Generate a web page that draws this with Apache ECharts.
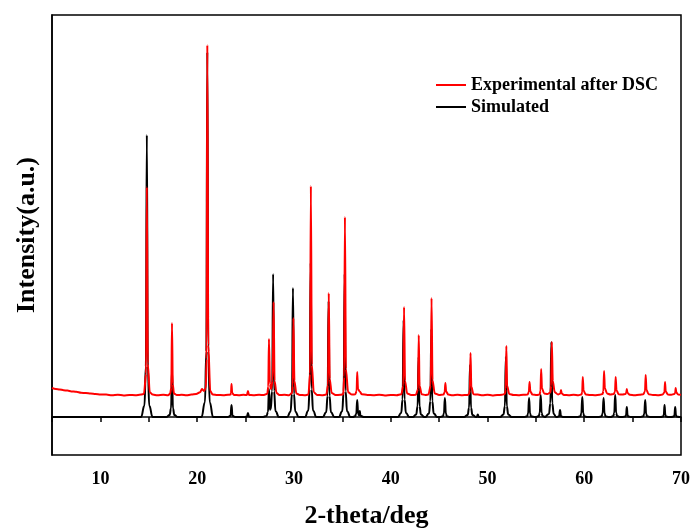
<!DOCTYPE html>
<html>
<head>
<meta charset="utf-8">
<script src="https://cdn.jsdelivr.net/npm/echarts@6/dist/echarts.min.js"></script>
<style>html,body{margin:0;padding:0;background:#fff;}#c{width:692px;height:530px;}</style>
</head>
<body>
<div id="c"></div>
<script>
// x tick labels shown on the 2-theta axis
var tickLabels = [10, 20, 30, 40, 50, 60, 70];
var seriesNames = ['Experimental after DSC', 'Simulated'];

// Experimental pattern after DSC: [2-theta, intensity]
var experimental = [
[5.0,725],[5.4,700],[5.8,690],[6.2,670],[6.6,660],[7.0,640],[7.5,630],[8.0,605],[8.5,600],[9.0,585],[9.5,575],[10.0,565],[10.6,560],[11.2,545],[11.8,555],[12.4,540],[13.0,550],[13.6,545],[14.2,560],[14.5,575],
[14.72,1080],[14.8,5750],[14.9,1340],[15.1,620],[15.4,560],
[15.9,545],[16.5,555],[17.0,545],[17.2,580],
[17.33,730],[17.4,2350],[17.48,820],[17.6,590],[17.9,550],
[18.4,555],[18.9,545],[19.4,560],[19.9,575],[20.3,620],[20.5,700],[20.7,650],[20.9,720],
[20.97,1450],[21.05,9300],[21.15,1800],[21.35,650],[21.6,565],
[22.1,550],[22.7,545],[23.2,555],[23.45,560],
[23.5,600],[23.55,825],[23.62,600],[23.8,550],
[24.3,545],[24.8,555],[25.15,550],[25.25,650],[25.35,550],[25.8,545],[26.4,555],[26.9,550],[27.25,580],
[27.35,760],[27.42,1950],[27.52,820],[27.62,700],[27.8,900],[27.9,2875],[28.0,900],[28.2,600],[28.5,550],
[29.0,555],[29.5,545],[29.8,600],
[29.88,780],[29.95,2475],[30.05,900],[30.25,590],[30.6,550],
[31.1,545],[31.5,560],
[31.67,1080],[31.75,5775],[31.85,1300],[32.05,620],[32.4,550],
[32.9,545],[33.35,560],
[33.52,800],[33.6,3100],[33.7,950],[33.9,600],[34.3,550],
[34.8,555],[35.1,570],
[35.19,1000],[35.27,5000],[35.37,1200],[35.6,620],[36.0,560],[36.35,570],
[36.48,650],[36.54,1125],[36.62,700],[36.8,640],[37.0,570],
[37.6,550],[38.2,545],[38.8,555],[39.4,540],[40.0,550],[40.6,545],[41.1,570],
[41.3,780],[41.38,2750],[41.48,900],[41.7,590],[42.1,550],[42.6,555],
[42.83,700],[42.9,2050],[42.98,780],[43.2,570],[43.6,550],[43.9,565],
[44.14,790],[44.22,2975],[44.32,920],[44.55,590],[45.0,550],[45.45,560],
[45.58,620],[45.65,850],[45.73,640],[45.95,560],
[46.4,545],[46.9,555],[47.4,545],[47.9,550],[48.1,570],
[48.18,680],[48.25,1600],[48.33,760],[48.55,570],[49.0,560],[49.5,545],[50.0,555],[50.5,540],[51.0,550],[51.5,555],[51.8,575],
[51.88,690],[51.95,1775],[52.03,780],[52.25,575],[52.7,550],[53.2,545],[53.7,555],[54.15,560],
[54.28,630],[54.35,875],[54.43,640],[54.65,560],[55.1,550],[55.4,565],
[55.48,660],[55.55,1200],[55.63,720],[55.85,590],[56.2,575],[56.5,610],
[56.58,780],[56.65,1875],[56.75,900],[56.95,620],[57.3,560],
[57.54,590],[57.6,675],[57.67,590],[57.9,550],[58.4,545],[58.9,555],[59.4,545],[59.7,560],
[59.79,620],[59.85,1000],[59.93,660],[60.15,565],[60.6,550],[61.1,545],[61.6,555],[61.9,575],
[61.98,650],[62.05,1150],[62.13,720],[62.35,590],[62.7,560],[63.05,575],
[63.18,630],[63.25,1000],[63.33,670],[63.55,570],[63.95,560],[64.25,575],
[64.34,600],[64.4,700],[64.47,600],[64.7,555],[65.2,545],[65.7,555],[66.1,570],
[66.28,640],[66.35,1050],[66.43,680],[66.65,570],[67.1,550],[67.6,545],[68.1,560],
[68.29,620],[68.35,875],[68.42,640],[68.65,560],[69.0,555],[69.3,575],
[69.4,600],[69.45,725],[69.52,610],[69.7,560],[70.0,555]
];

// Simulated pattern: [2-theta, intensity]
var simulated = [
[5.0,0],
[14.2,0],[14.55,280],[14.7,1270],[14.8,7050],[14.9,1270],[15.05,280],[15.4,0],
[16.8,0],[17.15,47],[17.3,210],[17.4,1175],[17.5,210],[17.65,47],[18.0,0],
[20.45,0],[20.8,365],[20.95,1640],[21.05,9125],[21.15,1640],[21.3,365],[21.65,0],
[23.15,0],[23.45,30],[23.55,300],[23.65,30],[23.95,0],
[24.95,0],[25.15,12],[25.25,100],[25.35,12],[25.55,0],
[26.82,0],[27.17,28],[27.32,126],[27.42,700],[27.52,180],[27.6,200],[27.75,645],[27.85,3575],[27.95,645],[28.1,143],[28.45,0],
[29.3,0],[29.65,129],[29.8,580],[29.9,3225],[30.0,580],[30.15,129],[30.5,0],
[31.13,0],[31.48,154],[31.63,693],[31.73,3850],[31.83,693],[31.98,154],[32.33,0],
[32.98,0],[33.33,116],[33.48,522],[33.58,2900],[33.68,522],[33.83,116],[34.18,0],
[34.64,0],[34.99,143],[35.14,645],[35.24,3575],[35.34,645],[35.49,143],[35.84,0],
[36.1,0],[36.3,17],[36.44,77],[36.54,425],[36.64,77],[36.72,45],[36.8,150],[36.88,30],[37.2,0],
[40.73,0],[41.08,97],[41.23,437],[41.33,2425],[41.43,437],[41.58,97],[41.93,0],
[42.28,0],[42.63,60],[42.78,270],[42.88,1500],[42.98,270],[43.13,60],[43.48,0],
[43.6,0],[43.95,88],[44.1,396],[44.2,2200],[44.3,396],[44.45,88],[44.8,0],
[45.1,0],[45.4,19],[45.5,86],[45.6,475],[45.7,86],[45.8,19],[46.1,0],
[47.6,0],[47.95,52],[48.1,234],[48.2,1300],[48.3,234],[48.45,52],[48.8,0],
[48.9,0],[49.0,60],[49.1,0],
[51.3,0],[51.65,60],[51.8,270],[51.9,1500],[52.0,270],[52.15,60],[52.5,0],
[53.8,0],[54.1,19],[54.2,86],[54.3,475],[54.4,86],[54.5,19],[54.9,0],
[55.0,0],[55.3,22],[55.4,99],[55.5,550],[55.6,99],[55.7,22],[56.0,0],
[56.05,0],[56.35,75],[56.5,338],[56.6,1875],[56.7,338],[56.85,75],[57.1,0],
[57.2,0],[57.4,20],[57.5,175],[57.6,20],[57.8,0],
[59.3,0],[59.6,20],[59.7,90],[59.8,500],[59.9,90],[60.0,20],[60.3,0],
[61.5,0],[61.8,19],[61.9,86],[62.0,475],[62.1,86],[62.2,19],[62.5,0],
[62.7,0],[63.0,22],[63.1,99],[63.2,550],[63.3,99],[63.4,22],[63.7,0],
[64.0,0],[64.25,15],[64.32,45],[64.4,250],[64.48,45],[64.55,15],[64.8,0],
[65.8,0],[66.1,17],[66.2,77],[66.3,425],[66.4,77],[66.5,17],[66.8,0],
[67.9,0],[68.15,12],[68.22,54],[68.3,300],[68.38,54],[68.45,12],[68.7,0],
[69.0,0],[69.25,10],[69.32,45],[69.4,250],[69.48,45],[69.55,10],[69.8,0],[70.0,0]
];

var FONT = '"Liberation Serif", "Times New Roman", serif';
var chart = echarts.init(document.getElementById('c'), null, {renderer: 'canvas'});
chart.setOption({
  animation: false,
  backgroundColor: '#fff',
  grid: {left: 52, right: 11, top: 15, bottom: 75, containLabel: false, outerBoundsMode: 'none',
         show: true, borderColor: '#000', borderWidth: 1.5, backgroundColor: 'transparent'},
  legend: {
    orient: 'vertical', left: 431, top: 71, itemGap: 4,
    itemWidth: 30, itemHeight: 2, icon: 'rect',
    data: seriesNames,
    textStyle: {fontFamily: FONT, fontWeight: 'bold', fontSize: 18, color: '#000', lineHeight: 18, padding: [0,0,0,0]}
  },
  xAxis: {
    type: 'value', min: 5, max: 70, interval: 5,
    name: '2-theta/deg', nameLocation: 'middle', nameGap: 48,
    nameTextStyle: {fontFamily: FONT, fontWeight: 'bold', fontSize: 26, color: '#000'},
    axisLine: {lineStyle: {color: '#000', width: 1.5}},
    axisTick: {length: 5, lineStyle: {color: '#000', width: 1.5}},
    axisLabel: {
      fontFamily: FONT, fontWeight: 'bold', fontSize: 18, color: '#000', margin: 15,
      formatter: function (v) { return tickLabels.indexOf(v) >= 0 ? String(v) : ''; }
    },
    splitLine: {show: false}
  },
  yAxis: {
    type: 'value', min: -950, max: 10050,
    name: 'Intensity(a.u.)', nameLocation: 'middle', nameGap: 12,
    nameTextStyle: {fontFamily: FONT, fontWeight: 'bold', fontSize: 26, color: '#000'},
    axisLine: {show: true, lineStyle: {color: '#000', width: 1.5}},
    axisTick: {show: false}, axisLabel: {show: false}, splitLine: {show: false}
  },
  series: [
    {name: seriesNames[1], type: 'line', data: simulated, showSymbol: false, symbol: 'none',
     smooth: 0.5, smoothMonotone: 'x',
     lineStyle: {color: '#000', width: 2}, itemStyle: {color: '#000'}, z: 2},
    {name: seriesNames[0], type: 'line', data: experimental, showSymbol: false, symbol: 'none',
     smooth: 0.3, smoothMonotone: 'x',
     lineStyle: {color: '#ff0000', width: 2}, itemStyle: {color: '#ff0000'}, z: 3}
  ]
});
</script>
</body>
</html>
